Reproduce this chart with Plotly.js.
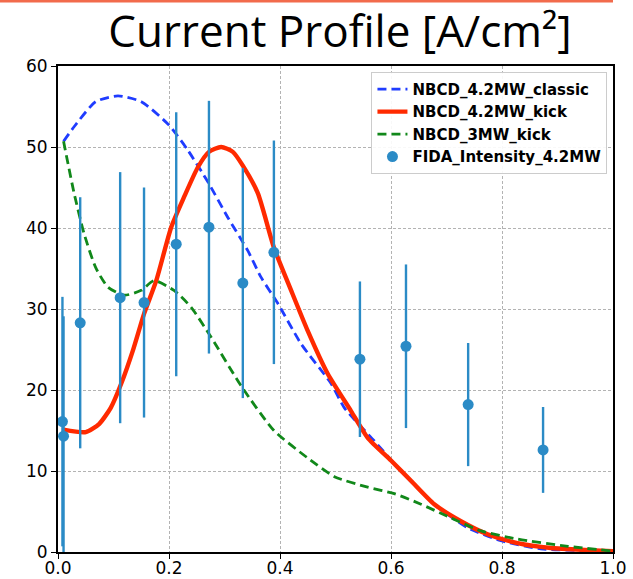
<!DOCTYPE html>
<html>
<head>
<meta charset="utf-8">
<script src="https://cdn.plot.ly/plotly-3.0.1.min.js"></script>
<style>html,body{margin:0;padding:0;background:#fff;}#chart{width:633px;height:579px;}</style>
</head>
<body>
<div id="chart"></div>
<script>
// NBCD_4.2MW_classic
const classicX = [0.01, 0.029, 0.068, 0.108, 0.150, 0.200, 0.234, 0.270, 0.306, 0.342, 0.366, 0.396, 0.438, 0.492, 0.516, 0.570, 0.618, 0.678, 0.738, 0.798, 0.870, 1.0];
const classicY = [50.7, 52.5, 55.6, 56.3, 55.6, 52.7, 49.6, 45.7, 41.3, 37.2, 33.9, 30.7, 25.7, 20.8, 17.8, 13.7, 10.0, 5.9, 3.0, 1.4, 0.4, 0.1];
// NBCD_4.2MW_kick
const kickX = [0.01, 0.050, 0.074, 0.095, 0.114, 0.135, 0.155, 0.177, 0.204, 0.227, 0.252, 0.272, 0.294, 0.315, 0.333, 0.360, 0.389, 0.420, 0.450, 0.486, 0.528, 0.558, 0.600, 0.636, 0.678, 0.726, 0.774, 0.828, 0.888, 1.0];
const kickY = [15.1, 14.8, 15.8, 17.8, 20.8, 24.9, 29.4, 33.5, 40.1, 43.8, 47.5, 49.4, 50.0, 49.4, 47.7, 44.3, 37.6, 32.3, 27.3, 22.0, 17.4, 14.1, 11.3, 8.8, 5.9, 3.8, 2.2, 1.1, 0.5, 0.1];
// NBCD_3MW_kick
const mw3X = [0.01, 0.029, 0.047, 0.068, 0.090, 0.119, 0.150, 0.173, 0.209, 0.240, 0.276, 0.330, 0.389, 0.450, 0.498, 0.558, 0.606, 0.654, 0.708, 0.762, 0.828, 0.919, 1.0];
const mw3Y = [50.7, 44.3, 39.3, 35.1, 32.7, 31.7, 32.3, 33.5, 32.3, 30.2, 26.5, 20.5, 15.0, 11.6, 9.3, 8.0, 7.2, 5.9, 4.2, 2.6, 1.6, 0.7, 0.1];
// FIDA_Intensity_4.2MW
const fidaX = [0.008, 0.010, 0.040, 0.112, 0.155, 0.213, 0.272, 0.333, 0.389, 0.544, 0.627, 0.739, 0.874];
const fidaY = [16.1, 14.3, 28.3, 31.4, 30.8, 38.0, 40.1, 33.2, 37.0, 23.8, 25.4, 18.2, 12.6];
const fidaErr = [15.4, 14.8, 15.5, 15.5, 14.2, 16.3, 15.6, 14.2, 13.8, 9.6, 10.1, 7.6, 5.3];
const xTicks = [0, 0.2, 0.4, 0.6, 0.8, 1.0];
const yTicks = [0, 10, 20, 30, 40, 50, 60];

const traces = [
  {x: classicX, y: classicY, type: 'scatter', mode: 'lines', name: 'NBCD_4.2MW_classic',
   line: {color: '#1f3cff', width: 2.8, dash: '9px,5px', shape: 'spline', smoothing: 0.6}},
  {x: kickX, y: kickY, type: 'scatter', mode: 'lines', name: 'NBCD_4.2MW_kick',
   line: {color: '#ff2a00', width: 4.4, shape: 'spline', smoothing: 0.6}},
  {x: mw3X, y: mw3Y, type: 'scatter', mode: 'lines', name: 'NBCD_3MW_kick',
   line: {color: '#11881a', width: 2.8, dash: '9px,5px', shape: 'spline', smoothing: 0.6}},
  {x: fidaX, y: fidaY, type: 'scatter', mode: 'markers', name: 'FIDA_Intensity_4.2MW',
   marker: {color: '#2b8bc6', size: 11},
   error_y: {type: 'data', array: fidaErr, visible: true, color: '#2b8bc6', thickness: 2.4, width: 0}}
];

const axisCommon = {
  showline: true, linecolor: '#000', linewidth: 1.8, mirror: true,
  ticks: 'outside', ticklen: 5, tickwidth: 1.3, tickcolor: '#000',
  showgrid: true, gridcolor: '#b3b3b3', gridwidth: 0.8, griddash: '3px,2px',
  zeroline: false,
  tickfont: {family: 'DejaVu Sans', size: 17, color: '#000'}
};

const layout = {
  width: 633, height: 579,
  margin: {l: 58, r: 20, t: 66, b: 27},
  paper_bgcolor: '#fff', plot_bgcolor: '#fff',
  title: {text: 'Current Profile [A/cm²]', x: 340/633, xanchor: 'center', xref: 'container',
          y: 1 - 32/579, yanchor: 'middle', yref: 'container',
          font: {family: '"Open Sans", sans-serif', size: 44, color: '#000'}},
  xaxis: Object.assign({}, axisCommon, {range: [0, 1], tickvals: xTicks, ticktext: xTicks.map(v => v.toFixed(1)), ticklabelstandoff: -5}),
  yaxis: Object.assign({}, axisCommon, {range: [0, 60], tickvals: yTicks, ticktext: yTicks.map(String)}),
  showlegend: true,
  legend: {x: 0.99, y: 0.988, xanchor: 'right', yanchor: 'top', bgcolor: 'rgba(255,255,255,0.9)',
           bordercolor: '#cccccc', borderwidth: 1, itemwidth: 30,
           font: {family: 'DejaVu Sans', size: 15, color: '#000', weight: 'bold'}},
  shapes: [{type: 'rect', xref: 'paper', yref: 'paper', x0: -58/555, x1: 1.0, y0: 1 + 63.5/486, y1: 1 + 66/486,
            line: {width: 0}, fillcolor: '#f26b4c'}]
};

Plotly.newPlot('chart', traces, layout, {displayModeBar: false});
</script>
</body>
</html>
